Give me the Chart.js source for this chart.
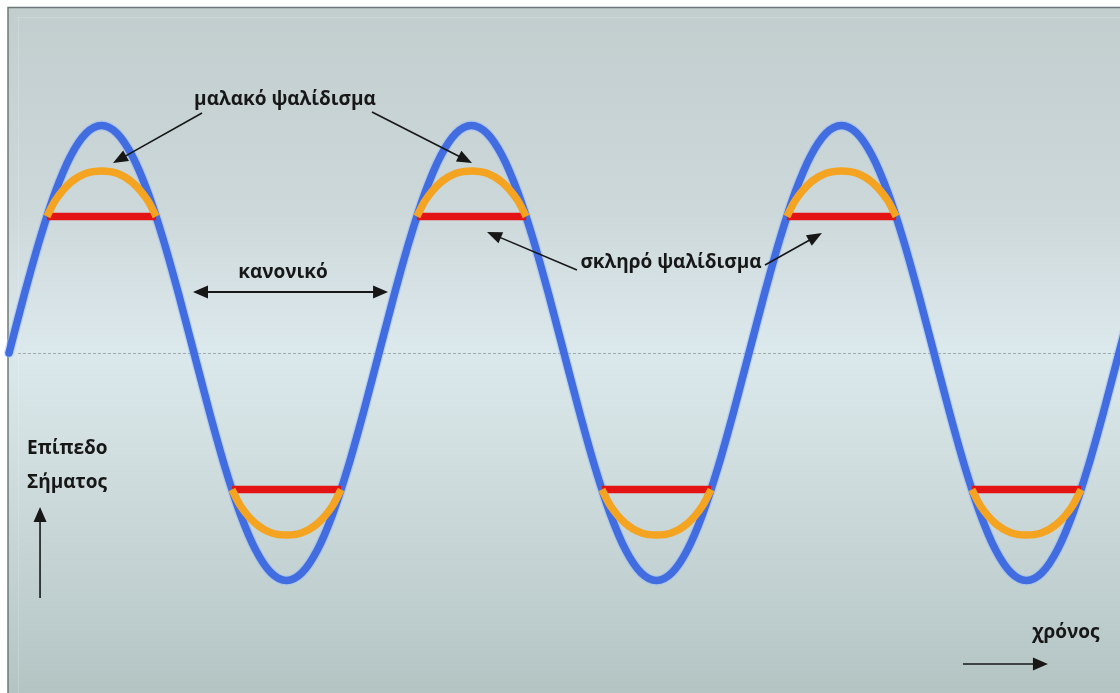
<!DOCTYPE html>
<html>
<head>
<meta charset="utf-8">
<script src="https://cdn.jsdelivr.net/npm/chart.js@4/dist/chart.umd.min.js"></script>
<style>
  html, body { margin: 0; padding: 0; background: #ffffff; }
  #c { display: block; }
</style>
</head>
<body>
<canvas id="c" width="1120" height="693"></canvas>
<script>
// ---------------- DATA ----------------
// phase (degrees) along the time axis
const phaseDeg = [0, 15, 30, 45, 60, 75, 90, 105, 120, 135, 150, 165, 180, 195, 210, 225, 240, 255, 270, 285, 300, 315, 330, 345,
  360, 375, 390, 405, 420, 435, 450, 465, 480, 495, 510, 525, 540, 555, 570, 585, 600, 615, 630, 645, 660, 675, 690, 705,
  720, 735, 750, 765, 780, 795, 810, 825, 840, 855, 870, 885, 900, 915, 930, 945, 960, 975, 990, 1005, 1020, 1035, 1050, 1065,
  1080, 1095];
// normal signal level (blue)
const normalLevel = [0, 0.259, 0.5, 0.707, 0.866, 0.966, 1, 0.966, 0.866, 0.707, 0.5, 0.259, 0, -0.259, -0.5, -0.707, -0.866, -0.966, -1, -0.966, -0.866, -0.707, -0.5, -0.259,
  0, 0.259, 0.5, 0.707, 0.866, 0.966, 1, 0.966, 0.866, 0.707, 0.5, 0.259, 0, -0.259, -0.5, -0.707, -0.866, -0.966, -1, -0.966, -0.866, -0.707, -0.5, -0.259,
  0, 0.259, 0.5, 0.707, 0.866, 0.966, 1, 0.966, 0.866, 0.707, 0.5, 0.259, 0, -0.259, -0.5, -0.707, -0.866, -0.966, -1, -0.966, -0.866, -0.707, -0.5, -0.259,
  0, 0.259];

// soft clipping (orange) - phases and levels, null separates the bumps
const softPhase = [36.87, 45, 60, 75, 90, 105, 120, 135, 143.13, null,
  216.87, 225, 240, 255, 270, 285, 300, 315, 323.13, null,
  396.87, 405, 420, 435, 450, 465, 480, 495, 503.13, null,
  576.87, 585, 600, 615, 630, 645, 660, 675, 683.13, null,
  756.87, 765, 780, 795, 810, 825, 840, 855, 863.13, null,
  936.87, 945, 960, 975, 990, 1005, 1020, 1035, 1043.13];
const softLevel = [0.6, 0.67, 0.75, 0.79, 0.8, 0.79, 0.75, 0.67, 0.6, null,
  -0.6, -0.67, -0.75, -0.79, -0.8, -0.79, -0.75, -0.67, -0.6, null,
  0.6, 0.67, 0.75, 0.79, 0.8, 0.79, 0.75, 0.67, 0.6, null,
  -0.6, -0.67, -0.75, -0.79, -0.8, -0.79, -0.75, -0.67, -0.6, null,
  0.6, 0.67, 0.75, 0.79, 0.8, 0.79, 0.75, 0.67, 0.6, null,
  -0.6, -0.67, -0.75, -0.79, -0.8, -0.79, -0.75, -0.67, -0.6];

// hard clipping (red)
const hardPhase = [36.87, 143.13, null, 216.87, 323.13, null, 396.87, 503.13, null, 576.87, 683.13, null, 756.87, 863.13, null, 936.87, 1043.13];
const hardLevel = [0.6, 0.6, null, -0.6, -0.6, null, 0.6, 0.6, null, -0.6, -0.6, null, 0.6, 0.6, null, -0.6, -0.6];

// labels
const labelSoft = 'μαλακό ψαλίδισμα';
const labelHard = 'σκληρό ψαλίδισμα';
const labelNormal = 'κανονικό';
const labelLevel = ['Επίπεδο', 'Σήματος'];
const labelTime = 'χρόνος';

// ---------------- BUILD ----------------
function pts(xs, ys) {
  return xs.map((x, i) => (x === null ? { x: (xs[i - 1] + xs[i + 1]) / 2, y: null } : { x: x, y: ys[i] }));
}

const bgPlugin = {
  id: 'bg',
  beforeDraw(chart) {
    const ctx = chart.ctx;
    const W = chart.width, H = chart.height;
    ctx.save();
    ctx.fillStyle = '#ffffff';
    ctx.fillRect(0, 0, W, H);
    const g = ctx.createLinearGradient(0, 7, 0, H);
    g.addColorStop(0, '#c2cdce');
    g.addColorStop(0.3, '#cdd8da');
    g.addColorStop(0.5, '#dce9ec');
    g.addColorStop(0.62, '#d4e1e3');
    g.addColorStop(1, '#b4c4c3');
    ctx.fillStyle = g;
    ctx.fillRect(8, 7, W - 8, H - 7);
    // inner faint frame
    ctx.strokeStyle = 'rgba(255,255,255,0.18)';
    ctx.lineWidth = 1;
    ctx.beginPath();
    ctx.moveTo(18.5, 17); ctx.lineTo(18.5, H);
    ctx.moveTo(18, 17.5); ctx.lineTo(W, 17.5);
    ctx.stroke();
    // outer frame
    ctx.strokeStyle = '#6e7878';
    ctx.lineWidth = 1.5;
    ctx.beginPath();
    ctx.moveTo(8, H); ctx.lineTo(8, 7.5); ctx.lineTo(W, 7.5);
    ctx.stroke();
    // dotted zero line
    const y0 = Math.round(chart.scales.y.getPixelForValue(0)) + 0.5;
    ctx.strokeStyle = '#a2abad';
    ctx.lineWidth = 1;
    ctx.setLineDash([3, 2]);
    ctx.beginPath();
    ctx.moveTo(18, y0); ctx.lineTo(W, y0);
    ctx.stroke();
    ctx.restore();
  }
};

function arrowHead(ctx, x1, y1, x2, y2, len, wid) {
  const a = Math.atan2(y2 - y1, x2 - x1);
  ctx.beginPath();
  ctx.moveTo(x2, y2);
  ctx.lineTo(x2 - len * Math.cos(a) + wid / 2 * Math.sin(a), y2 - len * Math.sin(a) - wid / 2 * Math.cos(a));
  ctx.lineTo(x2 - len * Math.cos(a) - wid / 2 * Math.sin(a), y2 - len * Math.sin(a) + wid / 2 * Math.cos(a));
  ctx.closePath();
  ctx.fill();
}

const annoPlugin = {
  id: 'anno',
  afterDraw(chart) {
    const ctx = chart.ctx;
    const sx = chart.scales.x, sy = chart.scales.y;
    const X = v => sx.getPixelForValue(v);
    const Y = v => sy.getPixelForValue(v);
    ctx.save();
    ctx.fillStyle = '#171717';
    ctx.strokeStyle = '#171717';
    function arrow(d1, v1, d2, v2, both, lw, len, wid) {
      const x1 = X(d1), y1 = Y(v1), x2 = X(d2), y2 = Y(v2);
      const a = Math.atan2(y2 - y1, x2 - x1);
      ctx.lineWidth = lw;
      ctx.beginPath();
      ctx.moveTo(both ? x1 + len * 0.8 * Math.cos(a) : x1, both ? y1 + len * 0.8 * Math.sin(a) : y1);
      ctx.lineTo(x2 - len * 0.8 * Math.cos(a), y2 - len * 0.8 * Math.sin(a));
      ctx.stroke();
      arrowHead(ctx, x1, y1, x2, y2, len, wid);
      if (both) arrowHead(ctx, x2, y2, x1, y1, len, wid);
    }
    // soft clipping arrows
    arrow(187.8, 1.055, 101.2, 0.835, false, 1.6, 15, 12);
    arrow(353.2, 1.059, 450.5, 0.835, false, 1.6, 15, 12);
    // hard clipping arrows
    arrow(552.6, 0.365, 465.1, 0.532, false, 1.6, 15, 12);
    arrow(735.6, 0.387, 791.0, 0.527, false, 1.6, 15, 12);
    // normal double arrow
    arrow(179.0, 0.268, 368.8, 0.268, true, 2.2, 15, 13);
    // axis arrows
    arrow(30.2, -1.077, 30.2, -0.677, false, 1.6, 15, 13);
    arrow(928.2, -1.367, 1010.9, -1.367, false, 1.6, 15, 13);

    ctx.font = 'bold 19px "Open Sans", "Noto Sans", sans-serif';
    ctx.textBaseline = 'middle';
    ctx.textAlign = 'center';
    ctx.fillText(labelSoft, X(268.5), Y(1.112));
    ctx.fillText(labelHard, X(644.1), Y(0.396));
    ctx.fillText(labelNormal, X(266.6), Y(0.352));
    ctx.fillText(labelTime, X(1028.4), Y(-1.231));
    ctx.textAlign = 'left';
    ctx.fillText(labelLevel[0], X(17.5), Y(-0.422));
    ctx.fillText(labelLevel[1], X(17.5), Y(-0.571));
    ctx.restore();
  }
};

const blueColor = '#416de0';
const orangeColor = '#f4a420';
const redColor = '#e51414';

new Chart(document.getElementById('c'), {
  type: 'line',
  data: {
    datasets: [
      { label: 'μαλακό ψαλίδισμα', data: pts(softPhase, softLevel), borderColor: orangeColor, borderWidth: 7.5,
        cubicInterpolationMode: 'monotone', spanGaps: false, order: 0, borderCapStyle: 'butt' },
      { label: 'σκληρό ψαλίδισμα', data: pts(hardPhase, hardLevel), borderColor: redColor, borderWidth: 7.5,
        tension: 0, spanGaps: false, order: 1, borderCapStyle: 'butt' },
      { label: 'κανονικό', data: pts(phaseDeg, normalLevel), borderColor: blueColor, borderWidth: 7.5,
        cubicInterpolationMode: 'monotone', order: 2, borderCapStyle: 'round' },
      { label: 'halo', data: pts(phaseDeg, normalLevel), borderColor: 'rgba(150,185,255,0.5)', borderWidth: 10,
        cubicInterpolationMode: 'monotone', order: 3, borderCapStyle: 'round' }
    ]
  },
  options: {
    responsive: false,
    animation: false,
    events: [],
    layout: { padding: 0 },
    elements: { point: { radius: 0, hoverRadius: 0 }, line: { fill: false } },
    plugins: { legend: { display: false }, tooltip: { enabled: false }, title: { display: false } },
    scales: {
      x: { type: 'linear', display: false, min: -8.76, max: 1081 },
      y: { type: 'linear', display: false, min: -1.4945, max: 1.5516 }
    }
  },
  plugins: [bgPlugin, annoPlugin]
});
</script>
</body>
</html>
